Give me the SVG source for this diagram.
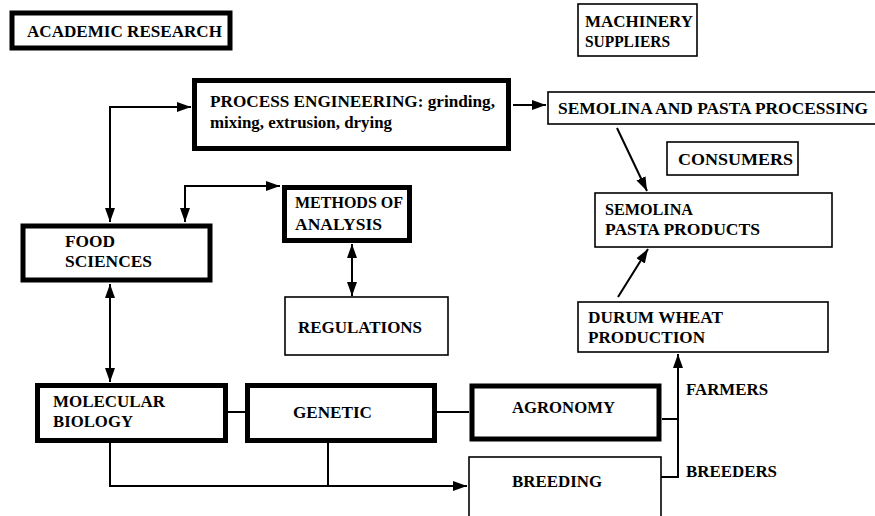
<svg xmlns="http://www.w3.org/2000/svg" width="875" height="516" viewBox="0 0 875 516">
<defs>
<style>
.thick{fill:#fff;stroke:#000;stroke-width:5}
.thin{fill:#fff;stroke:#000;stroke-width:1.6}
.t{font-family:"Liberation Serif","Times New Roman",serif;font-weight:bold;font-size:17px;fill:#000}
.c{fill:none;stroke:#000;stroke-width:2}
.a{marker-end:url(#ah)}
.d{marker-start:url(#ah);marker-end:url(#ah)}
</style>
<marker id="ah" markerUnits="userSpaceOnUse" markerWidth="15" markerHeight="11" refX="14" refY="5" orient="auto-start-reverse">
<path d="M0,0 L14,5 L0,10 z" fill="#000"/>
</marker>
</defs>
<rect width="875" height="516" fill="#fff"/>
<g id="connectors">
<polyline class="c d" points="110,222 110,107 191,107"/>
<polyline class="c d" points="185,222 185,186 280,186"/>
<line class="c a" x1="513" y1="105" x2="546" y2="105"/>
<line class="c a" x1="617" y1="128" x2="647" y2="191"/>
<line class="c a" x1="618" y1="297" x2="648" y2="249"/>
<line class="c d" x1="352" y1="244" x2="352" y2="296"/>
<line class="c d" x1="110" y1="284" x2="110" y2="382"/>
<line class="c" x1="228" y1="412" x2="245" y2="412"/>
<line class="c" x1="437" y1="412" x2="469" y2="412"/>
<polyline class="c a" points="110,443 110,486 467,486"/>
<line class="c" x1="328" y1="443" x2="328" y2="486"/>
<line class="c" x1="662" y1="419" x2="678" y2="419"/>
<polyline class="c a" points="661,477 678,477 678,354"/>
</g>
<g id="academic-research">
<rect class="thick" x="12" y="13" width="218" height="35" stroke-width="4"/>
<text class="t" x="27" y="37" textLength="195" lengthAdjust="spacingAndGlyphs">ACADEMIC RESEARCH</text>
</g>
<g id="machinery-suppliers">
<rect class="thin" x="578" y="4" width="119" height="52"/>
<text class="t" x="585" y="27" textLength="108" lengthAdjust="spacingAndGlyphs">MACHINERY</text>
<text class="t" x="585" y="47" textLength="85" lengthAdjust="spacingAndGlyphs">SUPPLIERS</text>
</g>
<g id="process-engineering">
<rect class="thick" x="194.5" y="80.5" width="314" height="68"/>
<text class="t" x="210" y="107" textLength="285" lengthAdjust="spacingAndGlyphs">PROCESS ENGINEERING: grinding,</text>
<text class="t" x="210" y="128" textLength="182" lengthAdjust="spacingAndGlyphs">mixing, extrusion, drying</text>
</g>
<g id="semolina-pasta-processing">
<rect class="thin" x="548" y="92" width="340" height="32"/>
<text class="t" x="558" y="114" textLength="310" lengthAdjust="spacingAndGlyphs">SEMOLINA AND PASTA PROCESSING</text>
</g>
<g id="consumers">
<rect class="thin" x="667" y="142" width="131" height="33"/>
<text class="t" x="678" y="165" textLength="115" lengthAdjust="spacingAndGlyphs">CONSUMERS</text>
</g>
<g id="semolina-pasta-products">
<rect class="thin" x="595" y="193" width="237" height="54"/>
<text class="t" x="605" y="215" textLength="88" lengthAdjust="spacingAndGlyphs">SEMOLINA</text>
<text class="t" x="605" y="235" textLength="155" lengthAdjust="spacingAndGlyphs">PASTA PRODUCTS</text>
</g>
<g id="food-sciences">
<rect class="thick" x="23" y="226" width="187" height="54" stroke-width="6"/>
<text class="t" x="65" y="247" textLength="50" lengthAdjust="spacingAndGlyphs">FOOD</text>
<text class="t" x="65" y="267" textLength="87" lengthAdjust="spacingAndGlyphs">SCIENCES</text>
</g>
<g id="methods-of-analysis">
<rect class="thick" x="284.5" y="187.5" width="125" height="53"/>
<text class="t" x="295" y="208" textLength="108" lengthAdjust="spacingAndGlyphs">METHODS OF</text>
<text class="t" x="295" y="230" textLength="87" lengthAdjust="spacingAndGlyphs">ANALYSIS</text>
</g>
<g id="regulations">
<rect class="thin" x="285" y="297" width="163" height="58"/>
<text class="t" x="298" y="333" textLength="124" lengthAdjust="spacingAndGlyphs">REGULATIONS</text>
</g>
<g id="durum-wheat-production">
<rect class="thin" x="578" y="302" width="250" height="50"/>
<text class="t" x="588" y="323" textLength="135" lengthAdjust="spacingAndGlyphs">DURUM WHEAT</text>
<text class="t" x="588" y="343" textLength="117" lengthAdjust="spacingAndGlyphs">PRODUCTION</text>
</g>
<g id="molecular-biology">
<rect class="thick" x="37.5" y="385.5" width="188" height="55"/>
<text class="t" x="53" y="407" textLength="112" lengthAdjust="spacingAndGlyphs">MOLECULAR</text>
<text class="t" x="53" y="427" textLength="80" lengthAdjust="spacingAndGlyphs">BIOLOGY</text>
</g>
<g id="genetic">
<rect class="thick" x="247.5" y="385.5" width="187" height="55"/>
<text class="t" x="293" y="418" textLength="79" lengthAdjust="spacingAndGlyphs">GENETIC</text>
</g>
<g id="agronomy">
<rect class="thick" x="472" y="386" width="187" height="53" stroke-width="6"/>
<text class="t" x="512" y="413" textLength="103" lengthAdjust="spacingAndGlyphs">AGRONOMY</text>
</g>
<g id="breeding">
<rect class="thin" x="469" y="457" width="192" height="80"/>
<text class="t" x="512" y="487" textLength="90" lengthAdjust="spacingAndGlyphs">BREEDING</text>
</g>
<g id="labels">
<text class="t" x="686" y="395" textLength="82" lengthAdjust="spacingAndGlyphs">FARMERS</text>
<text class="t" x="686" y="477" textLength="91" lengthAdjust="spacingAndGlyphs">BREEDERS</text>
</g>
</svg>
